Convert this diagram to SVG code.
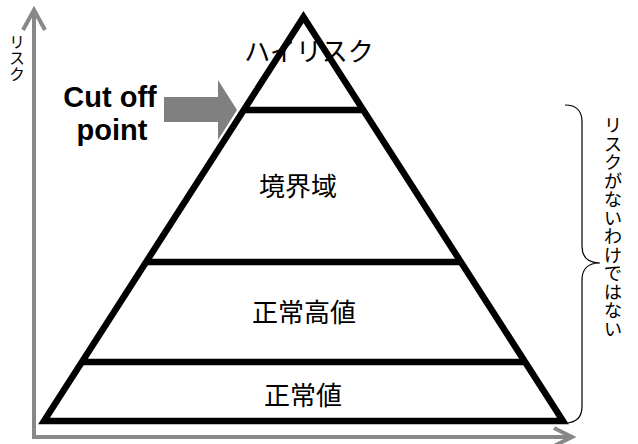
<svg xmlns="http://www.w3.org/2000/svg" width="638" height="444" viewBox="0 0 638 444">
<style>
.jp{font-family:"Noto Sans CJK JP","Noto Sans",sans-serif;fill:#000}
.lbl{font-size:26px;text-anchor:middle}
.axis{stroke:#888;stroke-width:4;fill:none}
.tri{stroke:#000;stroke-width:6.5;fill:none;stroke-linejoin:miter}
.vt{writing-mode:vertical-rl}
</style>
<rect width="638" height="444" fill="#fff"/>
<g id="connectors">
<path class="axis" d="M34,437 V10 M23,30 L34,10 L45,30"/>
<path class="axis" d="M32,437 H572 M554,428 L572,437 L554,446"/>
<path d="M164,97 H218 V80 L237,110 L218,140 V122 H164 Z" fill="#808080"/>
<path d="M565,105 Q582,105 582,122 V246 Q582,263 600,263 Q582,263 582,280 V406 Q582,423 565,423" fill="none" stroke="#000" stroke-width="1.2"/>
</g>
<g id="pyramid">
<path class="tri" d="M303.5,17 L44,421 L563,421 Z" fill="#fff"/>
<path class="tri" d="M244,110 H363 M146,262 H461 M82,362 H525"/>
</g>
<g id="high-risk"><text class="jp lbl" x="309" y="61">ハイリスク</text></g>
<g id="border"><text class="jp lbl" x="298" y="196">境界域</text></g>
<g id="normal-high"><text class="jp lbl" x="304" y="322">正常高値</text></g>
<g id="normal"><text class="jp lbl" x="303" y="405">正常値</text></g>
<g id="cutoff"><text font-family="Liberation Sans,Arial,sans-serif" font-weight="bold" font-size="29" text-anchor="middle"><tspan x="110" y="107">Cut off</tspan><tspan x="112" y="140">point</tspan></text></g>
<g id="risk-label"><text class="jp vt" x="17" y="34" font-size="16">リスク</text></g>
<g id="not-riskless"><text class="jp vt" x="613" y="116" font-size="18.5">リスクがないわけではない</text></g>
</svg>
